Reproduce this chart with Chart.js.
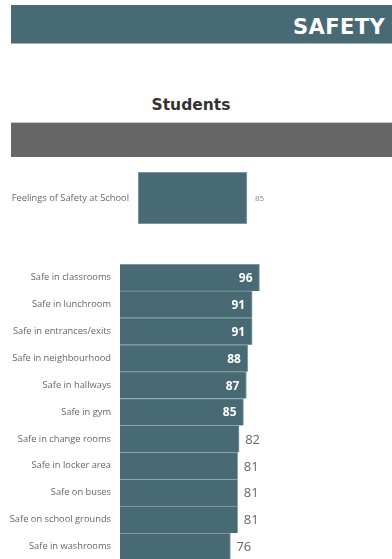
<!DOCTYPE html>
<html>
<head>
<meta charset="utf-8">
<script src="https://cdn.jsdelivr.net/npm/chart.js@4.4.0/dist/chart.umd.min.js"></script>
<style>
    html, body { margin: 0; padding: 0; background: #fff; overflow: hidden; }
    body { width: 392px; height: 559px; position: relative; }
    .header {
        position: absolute; left: 11px; top: 5px; width: 381px; height: 39px;
        background: #476a75; border-bottom: 1px solid #9fb3b9; box-sizing: border-box;
    }
    .header span {
        position: absolute; right: 7px; top: 10px;
        font: 900 21px "DejaVu Sans", sans-serif; color: #fff; letter-spacing: 0.4px;
    }
    .subtitle {
        position: absolute; left: 0; width: 382px; top: 96px; text-align: center;
        font: bold 15.5px "DejaVu Sans", sans-serif; color: #333;
    }
    .band {
        position: absolute; left: 11px; top: 122px; width: 381px; height: 35px;
        background: #666; border-top: 1px solid #c8c8c8; box-sizing: border-box;
    }
    .box { position: absolute; left: 0; width: 392px; }
</style>
</head>
<body>
<div class="header"><span>SAFETY</span></div>
<div class="subtitle">Students</div>
<div class="band"></div>
<div class="box" style="top:160px;height:76px;"><canvas id="overall"></canvas></div>
<div class="box" style="top:264px;height:296px;"><canvas id="places"></canvas></div>
<script>
// data
var overallLabels = ['Feelings of Safety at School'];
var overallValues = [85];

var placeLabels = [
    'Safe in classrooms',
    'Safe in lunchroom',
    'Safe in entrances/exits',
    'Safe in neighbourhood',
    'Safe in hallways',
    'Safe in gym',
    'Safe in change rooms',
    'Safe in locker area',
    'Safe on buses',
    'Safe on school grounds',
    'Safe in washrooms'
];
var placeValues = [96, 91, 91, 88, 87, 85, 82, 81, 81, 81, 76];

var barColor = '#476a75';

// draws the numbers at the end of each bar
var valueLabels = {
    id: 'valueLabels',
    afterDatasetsDraw: function (chart, args, opts) {
        var ctx = chart.ctx;
        var meta = chart.getDatasetMeta(0);
        var data = chart.data.datasets[0].data;
        meta.data.forEach(function (bar, i) {
            var v = data[i];
            ctx.save();
            ctx.textBaseline = 'middle';
            if (opts.insideFrom != null && v >= opts.insideFrom) {
                ctx.font = opts.insideFont;
                ctx.fillStyle = '#fff';
                ctx.textAlign = 'right';
                ctx.fillText(v, bar.x - opts.insidePad, bar.y + 1);
            } else {
                ctx.font = opts.outsideFont;
                ctx.fillStyle = opts.outsideColor;
                ctx.textAlign = 'left';
                ctx.fillText(v, bar.x + opts.outsidePad, bar.y + 1);
            }
            ctx.restore();
        });
    }
};

function makeBars(id, labels, values, cfg) {
    var ctx = document.getElementById(id).getContext('2d');
    return new Chart(ctx, {
        type: 'bar',
        data: {
            labels: labels,
            datasets: [{
                data: values,
                backgroundColor: barColor,
                borderColor: '#8ea5ad',
                borderWidth: cfg.border,
                borderSkipped: false,
                barPercentage: 1,
                categoryPercentage: 1
            }]
        },
        options: {
            indexAxis: 'y',
            responsive: true,
            maintainAspectRatio: false,
            animation: false,
            layout: { padding: cfg.padding },
            plugins: {
                legend: { display: false },
                tooltip: { enabled: false },
                valueLabels: cfg.labels
            },
            scales: {
                x: {
                    display: false,
                    min: 0,
                    max: 100
                },
                y: {
                    grid: { display: false, drawTicks: false },
                    border: { display: false },
                    ticks: {
                        padding: 9,
                        color: '#666',
                        font: { family: 'Open Sans', size: 9.3 }
                    },
                    afterFit: function (scale) {
                        scale.width = cfg.axisWidth;
                        scale.paddingTop = 0;
                        scale.paddingBottom = 0;
                    }
                }
            }
        },
        plugins: [valueLabels]
    });
}

makeBars('overall', overallLabels, overallValues, {
    axisWidth: 138,
    border: 1,
    padding: { top: 12, bottom: 12, left: 0, right: 392 - 138 - 128.2 },
    labels: {
        insideFrom: null,
        outsideFont: '8px "Open Sans"',
        outsideColor: '#888',
        outsidePad: 8
    }
});

makeBars('places', placeLabels, placeValues, {
    axisWidth: 120,
    border: { top: 1, right: 1, bottom: 0, left: 0 },
    padding: { top: 0, bottom: 0, left: 0, right: 392 - 120 - 145.3 },
    labels: {
        insideFrom: 85,
        insideFont: 'bold 12px "Open Sans"',
        insidePad: 7,
        outsideFont: '13px "Open Sans"',
        outsideColor: '#666',
        outsidePad: 6
    }
});
</script>
</body>
</html>
